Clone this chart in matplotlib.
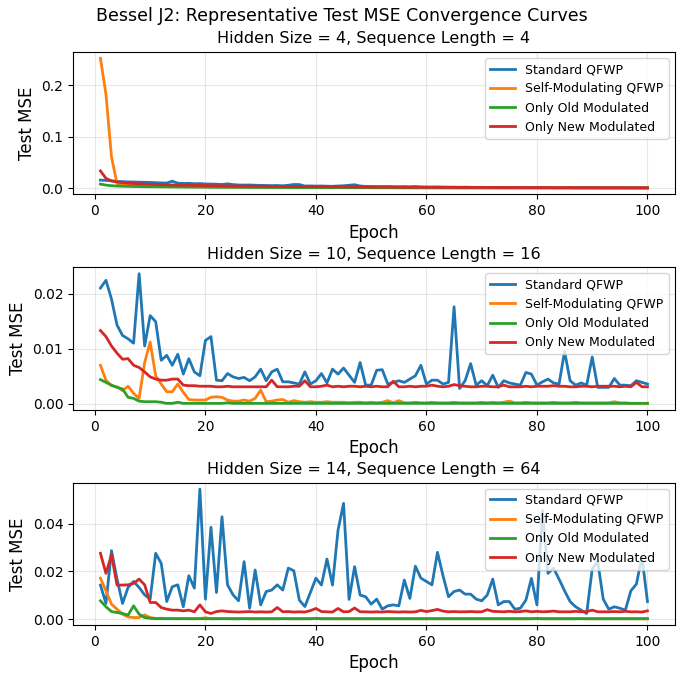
import numpy as np
import matplotlib
matplotlib.use("Agg")
import matplotlib.pyplot as plt

epochs = np.arange(1, 101)

series_names = ["Standard QFWP", "Self-Modulating QFWP", "Only Old Modulated", "Only New Modulated"]
panel_titles = [
    "Hidden Size = 4, Sequence Length = 4",
    "Hidden Size = 10, Sequence Length = 16",
    "Hidden Size = 14, Sequence Length = 64",
]

# --- hidden 4 / seq 4 ---
p1_std = [
    0.0155, 0.0150, 0.0140, 0.0130, 0.0125, 0.0120, 0.0118, 0.0115, 0.0112, 0.0110,
    0.0105, 0.0100, 0.0098, 0.0135, 0.0095, 0.0090, 0.0092, 0.0085, 0.0088, 0.0080,
    0.0078, 0.0075, 0.0070, 0.0082, 0.0068, 0.0060, 0.0058, 0.0060, 0.0055, 0.0052,
    0.0050, 0.0048, 0.0050, 0.0045, 0.0055, 0.0070, 0.0068, 0.0040, 0.0042, 0.0038,
    0.0040, 0.0036, 0.0035, 0.0040, 0.0045, 0.0055, 0.0065, 0.0040, 0.0032, 0.0030,
    0.0030, 0.0028, 0.0030, 0.0026, 0.0025, 0.0028, 0.0024, 0.0030, 0.0022, 0.0020,
    0.0020, 0.0022, 0.0018, 0.0018, 0.0017, 0.0016, 0.0018, 0.0015, 0.0014, 0.0014,
    0.0013, 0.0013, 0.0012, 0.0012, 0.0011, 0.0011, 0.0010, 0.0010, 0.0010, 0.0009,
    0.0009, 0.0009, 0.0008, 0.0008, 0.0008, 0.0008, 0.0007, 0.0007, 0.0007, 0.0007,
    0.0006, 0.0006, 0.0006, 0.0006, 0.0006, 0.0005, 0.0005, 0.0005, 0.0005, 0.0005,
]
p1_self = [
    0.253, 0.183, 0.061, 0.0090, 0.0060, 0.0052, 0.0048, 0.0045, 0.0042, 0.0040,
    0.0038, 0.0036, 0.0035, 0.0033, 0.0032, 0.0030, 0.0029, 0.0028, 0.0027, 0.0026,
    0.0025, 0.0024, 0.0023, 0.0022, 0.0021, 0.0020, 0.0019, 0.0019, 0.0018, 0.0017,
    0.0016, 0.0016, 0.0015, 0.0015, 0.0014, 0.0014, 0.0013, 0.0013, 0.0012, 0.0012,
    0.0011, 0.0011, 0.0011, 0.0010, 0.0010, 0.0010, 0.0009, 0.0009, 0.0009, 0.0009,
    0.0008, 0.0008, 0.0008, 0.0008, 0.0007, 0.0007, 0.0007, 0.0007, 0.0007, 0.0006,
    0.0006, 0.0006, 0.0006, 0.0006, 0.0006, 0.0006, 0.0005, 0.0005, 0.0005, 0.0005,
    0.0005, 0.0005, 0.0005, 0.0005, 0.0005, 0.0004, 0.0004, 0.0004, 0.0004, 0.0004,
    0.0004, 0.0004, 0.0004, 0.0004, 0.0004, 0.0004, 0.0003, 0.0003, 0.0003, 0.0003,
    0.0003, 0.0003, 0.0003, 0.0003, 0.0003, 0.0003, 0.0003, 0.0003, 0.0003, 0.0003,
]
p1_old = [
    0.0077, 0.0058, 0.0046, 0.0040, 0.0036, 0.0033, 0.0031, 0.0029, 0.0027, 0.0026,
    0.0025, 0.0024, 0.0023, 0.0022, 0.0021, 0.0020, 0.0019, 0.0018, 0.0018, 0.0017,
    0.0016, 0.0016, 0.0015, 0.0015, 0.0014, 0.0014, 0.0013, 0.0013, 0.0012, 0.0012,
    0.0011, 0.0011, 0.0011, 0.0010, 0.0010, 0.0010, 0.0009, 0.0009, 0.0009, 0.0009,
    0.0008, 0.0008, 0.0008, 0.0008, 0.0007, 0.0007, 0.0007, 0.0007, 0.0007, 0.0006,
    0.0006, 0.0006, 0.0006, 0.0006, 0.0006, 0.0005, 0.0005, 0.0005, 0.0005, 0.0005,
    0.0005, 0.0005, 0.0004, 0.0004, 0.0004, 0.0004, 0.0004, 0.0004, 0.0004, 0.0004,
    0.0003, 0.0003, 0.0003, 0.0003, 0.0003, 0.0003, 0.0003, 0.0003, 0.0003, 0.0003,
    0.0003, 0.0003, 0.0002, 0.0002, 0.0002, 0.0002, 0.0002, 0.0002, 0.0002, 0.0002,
    0.0002, 0.0002, 0.0002, 0.0002, 0.0002, 0.0002, 0.0002, 0.0002, 0.0002, 0.0002,
]
p1_new = [
    0.0335, 0.0190, 0.0140, 0.0120, 0.0106, 0.0096, 0.0089, 0.0083, 0.0078, 0.0074,
    0.0070, 0.0067, 0.0064, 0.0061, 0.0059, 0.0057, 0.0055, 0.0053, 0.0051, 0.0049,
    0.0047, 0.0046, 0.0044, 0.0043, 0.0042, 0.0040, 0.0039, 0.0038, 0.0037, 0.0036,
    0.0035, 0.0034, 0.0033, 0.0032, 0.0031, 0.0030, 0.0029, 0.0029, 0.0028, 0.0027,
    0.0026, 0.0026, 0.0025, 0.0024, 0.0024, 0.0023, 0.0022, 0.0022, 0.0021, 0.0021,
    0.0020, 0.0020, 0.0019, 0.0019, 0.0018, 0.0018, 0.0017, 0.0017, 0.0016, 0.0016,
    0.0015, 0.0015, 0.0015, 0.0014, 0.0014, 0.0013, 0.0013, 0.0013, 0.0012, 0.0012,
    0.0012, 0.0011, 0.0011, 0.0011, 0.0010, 0.0010, 0.0010, 0.0010, 0.0009, 0.0009,
    0.0009, 0.0009, 0.0008, 0.0008, 0.0008, 0.0008, 0.0007, 0.0007, 0.0007, 0.0007,
    0.0007, 0.0006, 0.0006, 0.0006, 0.0006, 0.0006, 0.0005, 0.0005, 0.0005, 0.0005,
]

# --- hidden 10 / seq 16 ---
p2_std = [
    0.0210, 0.0224, 0.0190, 0.0143, 0.0124, 0.0118, 0.0110, 0.0236, 0.0105, 0.0160,
    0.0149, 0.0079, 0.0088, 0.0070, 0.0090, 0.0054, 0.0082, 0.0058, 0.0051, 0.0115,
    0.0122, 0.0043, 0.0042, 0.0055, 0.0049, 0.0046, 0.0048, 0.0042, 0.0049, 0.0063,
    0.0042, 0.0058, 0.0063, 0.0040, 0.0040, 0.0038, 0.0036, 0.0058, 0.0036, 0.0042,
    0.0055, 0.0038, 0.0063, 0.0054, 0.0065, 0.0052, 0.0039, 0.0075, 0.0034, 0.0034,
    0.0061, 0.0062, 0.0036, 0.0039, 0.0042, 0.0039, 0.0045, 0.0051, 0.0070, 0.0036,
    0.0043, 0.0043, 0.0036, 0.0039, 0.0176, 0.0028, 0.0042, 0.0073, 0.0034, 0.0042,
    0.0033, 0.0052, 0.0030, 0.0042, 0.0038, 0.0036, 0.0034, 0.0057, 0.0054, 0.0034,
    0.0040, 0.0045, 0.0038, 0.0036, 0.0095, 0.0042, 0.0034, 0.0038, 0.0034, 0.0085,
    0.0030, 0.0030, 0.0030, 0.0046, 0.0034, 0.0034, 0.0033, 0.0042, 0.0039, 0.0036,
]
p2_self = [
    0.0070, 0.0043, 0.0033, 0.0031, 0.0024, 0.0032, 0.0019, 0.0010, 0.0075, 0.0112,
    0.0051, 0.0036, 0.0022, 0.0022, 0.0036, 0.0021, 0.0008, 0.0007, 0.0007, 0.0007,
    0.0012, 0.0013, 0.0012, 0.0007, 0.0005, 0.0005, 0.0007, 0.0005, 0.0010, 0.0025,
    0.0004, 0.0005, 0.0007, 0.0008, 0.0003, 0.0006, 0.0004, 0.0003, 0.0004, 0.0003,
    0.0003, 0.0004, 0.0003, 0.0003, 0.0003, 0.0002, 0.0003, 0.0003, 0.0002, 0.0003,
    0.0002, 0.0003, 0.0006, 0.0002, 0.0006, 0.0002, 0.0002, 0.0003, 0.0002, 0.0002,
    0.0003, 0.0002, 0.0002, 0.0002, 0.0003, 0.0002, 0.0002, 0.0002, 0.0002, 0.0003,
    0.0002, 0.0003, 0.0002, 0.0003, 0.0005, 0.0002, 0.0002, 0.0003, 0.0002, 0.0002,
    0.0002, 0.0002, 0.0003, 0.0002, 0.0002, 0.0002, 0.0003, 0.0002, 0.0002, 0.0002,
    0.0002, 0.0002, 0.0002, 0.0004, 0.0002, 0.0002, 0.0001, 0.0001, 0.0001, 0.0001,
]
p2_old = [
    0.0044, 0.0039, 0.0034, 0.0030, 0.0027, 0.0012, 0.0010, 0.0005, 0.0004, 0.0004,
    0.0004, 0.0003, 0.0001, 0.0001, 0.0003, 0.0001, 0.0001, 0.0001, 0.0001, 0.0001,
    0.0001, 0.0001, 0.0001, 0.0002, 0.0001, 0.0001, 0.0001, 0.0001, 0.0001, 0.0001,
    0.0001, 0.0001, 0.0001, 0.0001, 0.0001, 0.0001, 0.0001, 0.0001, 0.0001, 0.0001,
    0.0001, 0.0001, 0.0001, 0.0001, 0.0001, 0.0001, 0.0001, 0.0001, 0.0001, 0.0001,
    0.0001, 0.0001, 0.0001, 0.0001, 0.0001, 0.0001, 0.0001, 0.0001, 0.0001, 0.0001,
    0.0001, 0.0001, 0.0001, 0.0001, 0.0001, 0.0001, 0.0001, 0.0001, 0.0001, 0.0001,
    0.0001, 0.0001, 0.0001, 0.0001, 0.0001, 0.0001, 0.0001, 0.0001, 0.0001, 0.0001,
    0.0001, 0.0001, 0.0001, 0.0001, 0.0001, 0.0001, 0.0001, 0.0001, 0.0001, 0.0001,
    0.0001, 0.0001, 0.0001, 0.0001, 0.0001, 0.0001, 0.0001, 0.0001, 0.0001, 0.0001,
]
p2_new = [
    0.0133, 0.0122, 0.0105, 0.0092, 0.0081, 0.0082, 0.0070, 0.0066, 0.0058, 0.0049,
    0.0045, 0.0043, 0.0043, 0.0045, 0.0045, 0.0034, 0.0033, 0.0033, 0.0032, 0.0032,
    0.0032, 0.0031, 0.0031, 0.0032, 0.0031, 0.0031, 0.0031, 0.0031, 0.0031, 0.0031,
    0.0031, 0.0043, 0.0031, 0.0031, 0.0031, 0.0032, 0.0032, 0.0042, 0.0031, 0.0031,
    0.0032, 0.0034, 0.0031, 0.0032, 0.0031, 0.0032, 0.0032, 0.0031, 0.0032, 0.0031,
    0.0032, 0.0031, 0.0031, 0.0041, 0.0031, 0.0031, 0.0032, 0.0031, 0.0032, 0.0032,
    0.0034, 0.0032, 0.0031, 0.0032, 0.0035, 0.0033, 0.0032, 0.0031, 0.0031, 0.0032,
    0.0032, 0.0031, 0.0031, 0.0034, 0.0031, 0.0031, 0.0031, 0.0032, 0.0031, 0.0032,
    0.0032, 0.0032, 0.0033, 0.0032, 0.0032, 0.0031, 0.0031, 0.0032, 0.0032, 0.0031,
    0.0032, 0.0032, 0.0032, 0.0032, 0.0031, 0.0032, 0.0031, 0.0039, 0.0031, 0.0031,
]

# --- hidden 14 / seq 64 ---
p3_std = [
    0.0143, 0.0066, 0.0287, 0.0168, 0.0066, 0.0133, 0.0158, 0.0133, 0.0102, 0.0084,
    0.0276, 0.0234, 0.0074, 0.0136, 0.0144, 0.0052, 0.0182, 0.0130, 0.0545, 0.0084,
    0.0385, 0.0112, 0.0429, 0.0144, 0.0102, 0.0077, 0.0241, 0.0046, 0.0206, 0.0060,
    0.0116, 0.0122, 0.0144, 0.0122, 0.0214, 0.0203, 0.0080, 0.0053, 0.0112, 0.0172,
    0.0143, 0.0252, 0.0143, 0.0373, 0.0485, 0.0083, 0.0220, 0.0101, 0.0094, 0.0063,
    0.0084, 0.0042, 0.0056, 0.0060, 0.0056, 0.0164, 0.0087, 0.0222, 0.0172, 0.0158,
    0.0144, 0.0280, 0.0182, 0.0094, 0.0116, 0.0122, 0.0105, 0.0105, 0.0084, 0.0077,
    0.0101, 0.0168, 0.0060, 0.0074, 0.0074, 0.0042, 0.0046, 0.0080, 0.0171, 0.0060,
    0.0455, 0.0192, 0.0214, 0.0168, 0.0119, 0.0074, 0.0052, 0.0038, 0.0024, 0.0210,
    0.0242, 0.0084, 0.0042, 0.0052, 0.0046, 0.0038, 0.0119, 0.0147, 0.0262, 0.0074,
]
p3_self = [
    0.0172, 0.0119, 0.0063, 0.0042, 0.0021, 0.0010, 0.0007, 0.0007, 0.0018, 0.0007,
    0.0003, 0.0004, 0.0003, 0.0003, 0.0002, 0.0003, 0.0002, 0.0002, 0.0003, 0.0006,
    0.0002, 0.0002, 0.0003, 0.0002, 0.0002, 0.0002, 0.0003, 0.0002, 0.0002, 0.0002,
    0.0002, 0.0002, 0.0002, 0.0003, 0.0002, 0.0002, 0.0002, 0.0002, 0.0002, 0.0004,
    0.0002, 0.0002, 0.0002, 0.0002, 0.0002, 0.0002, 0.0002, 0.0002, 0.0002, 0.0002,
    0.0002, 0.0002, 0.0002, 0.0002, 0.0002, 0.0002, 0.0002, 0.0002, 0.0002, 0.0002,
    0.0002, 0.0002, 0.0002, 0.0002, 0.0002, 0.0002, 0.0002, 0.0002, 0.0002, 0.0002,
    0.0002, 0.0002, 0.0002, 0.0002, 0.0002, 0.0002, 0.0002, 0.0002, 0.0002, 0.0002,
    0.0002, 0.0002, 0.0002, 0.0002, 0.0002, 0.0002, 0.0002, 0.0003, 0.0002, 0.0002,
    0.0002, 0.0002, 0.0002, 0.0002, 0.0002, 0.0002, 0.0002, 0.0002, 0.0002, 0.0002,
]
p3_old = [
    0.0077, 0.0052, 0.0032, 0.0028, 0.0024, 0.0017, 0.0056, 0.0021, 0.0007, 0.0004,
    0.0002, 0.0002, 0.0002, 0.0002, 0.0002, 0.0002, 0.0002, 0.0002, 0.0002, 0.0002,
    0.0002, 0.0002, 0.0002, 0.0002, 0.0002, 0.0002, 0.0002, 0.0002, 0.0002, 0.0002,
    0.0002, 0.0002, 0.0002, 0.0002, 0.0002, 0.0002, 0.0002, 0.0002, 0.0002, 0.0003,
    0.0002, 0.0002, 0.0002, 0.0002, 0.0002, 0.0002, 0.0002, 0.0002, 0.0002, 0.0002,
    0.0002, 0.0002, 0.0002, 0.0002, 0.0002, 0.0002, 0.0002, 0.0002, 0.0002, 0.0002,
    0.0002, 0.0002, 0.0002, 0.0002, 0.0002, 0.0002, 0.0002, 0.0002, 0.0002, 0.0002,
    0.0002, 0.0002, 0.0002, 0.0002, 0.0002, 0.0002, 0.0002, 0.0002, 0.0002, 0.0003,
    0.0002, 0.0002, 0.0002, 0.0002, 0.0002, 0.0002, 0.0002, 0.0002, 0.0002, 0.0002,
    0.0002, 0.0002, 0.0002, 0.0002, 0.0002, 0.0002, 0.0002, 0.0002, 0.0002, 0.0002,
]
p3_new = [
    0.0276, 0.0192, 0.0270, 0.0143, 0.0143, 0.0144, 0.0150, 0.0168, 0.0144, 0.0070,
    0.0070, 0.0049, 0.0042, 0.0038, 0.0038, 0.0035, 0.0038, 0.0031, 0.0060, 0.0031,
    0.0024, 0.0032, 0.0035, 0.0032, 0.0031, 0.0030, 0.0031, 0.0032, 0.0030, 0.0031,
    0.0030, 0.0031, 0.0049, 0.0031, 0.0032, 0.0030, 0.0031, 0.0030, 0.0036, 0.0045,
    0.0032, 0.0031, 0.0030, 0.0045, 0.0031, 0.0032, 0.0047, 0.0031, 0.0031, 0.0030,
    0.0031, 0.0030, 0.0032, 0.0031, 0.0030, 0.0031, 0.0030, 0.0031, 0.0037, 0.0032,
    0.0036, 0.0041, 0.0034, 0.0031, 0.0032, 0.0031, 0.0031, 0.0032, 0.0031, 0.0031,
    0.0040, 0.0033, 0.0032, 0.0031, 0.0033, 0.0031, 0.0032, 0.0035, 0.0031, 0.0033,
    0.0031, 0.0032, 0.0034, 0.0031, 0.0031, 0.0031, 0.0033, 0.0031, 0.0032, 0.0038,
    0.0031, 0.0031, 0.0031, 0.0032, 0.0031, 0.0033, 0.0031, 0.0031, 0.0030, 0.0035,
]

panels = [
    [p1_std, p1_self, p1_old, p1_new],
    [p2_std, p2_self, p2_old, p2_new],
    [p3_std, p3_self, p3_old, p3_new],
]

fig, axes = plt.subplots(3, 1, figsize=(6.83, 6.73), dpi=100)
fig.subplots_adjust(left=0.107, right=0.988, top=0.923, bottom=0.071, hspace=0.51)
fig.suptitle("Bessel J2: Representative Test MSE Convergence Curves", fontsize=12.5, y=0.99)

for ax, title, curves in zip(axes, panel_titles, panels):
    for name, vals in zip(series_names, curves):
        ax.plot(epochs, vals, linewidth=2, label=name)
    ax.set_title(title, fontsize=11.5)
    ax.set_xlabel("Epoch", fontsize=12)
    ax.set_ylabel("Test MSE", fontsize=12)
    ax.grid(True, alpha=0.3)
    ax.legend(loc="upper right", fontsize=9)

fig.savefig("out.png", dpi=100)
